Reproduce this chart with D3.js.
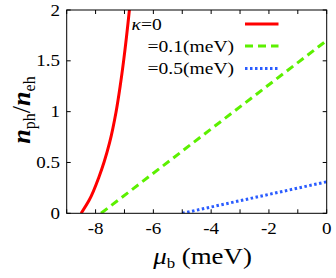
<!DOCTYPE html>
<html>
<head>
<meta charset="utf-8">
<script src="https://cdn.jsdelivr.net/npm/d3@7"></script>
<style>
  html, body { margin: 0; padding: 0; background: #fff; }
</style>
</head>
<body>
<svg id="chart" width="336" height="278"></svg>
<script>
/* ── data ── */
const redMu    = [-8.50, -8.22, -7.88, -7.70, -7.52, -7.29, -7.15, -7.03, -6.83, -6.76];
const redVal   = [0.00,  0.13,  0.36,  0.51,  0.69,  1.00,  1.25,  1.50,  2.00,  2.20];
const greenMu  = [-7.81, -4.0, 0.0];
const greenVal = [0.00,  0.83, 1.70];
const blueMu   = [-5.0, 0.0];
const blueVal  = [0.00, 0.31];

const xTicks = [-9, -8, -7, -6, -5, -4, -3, -2, -1, 0];
const xLabels = [-8, -6, -4, -2, 0];
const yTicks = [0, 0.5, 1, 1.5, 2];
const legendLabels = ["=0", "=0.1(meV)", "=0.5(meV)"];

/* ── layout ── */
const L = 66.7, R = 326.7, T = 10, B = 213.3;
const FONT = '"Liberation Serif"';
const SX = 1.12;   // lettering in the source is slightly wide
const svg = d3.select("#chart");
const x = d3.scaleLinear().domain([-9, 0]).range([L, R]);
const y = d3.scaleLinear().domain([0, 2]).range([B, T]);

// text placed at (tx,ty) and widened by SX
function stext(g, tx, ty, size, anchor) {
  return g.append("text").style("font-family", FONT)
    .attr("transform", `translate(${tx},${ty}) scale(${SX},1)`)
    .attr("text-anchor", anchor || "start").attr("font-size", size);
}

svg.append("defs").append("clipPath").attr("id", "clip")
  .append("rect").attr("x", L).attr("y", T).attr("width", R - L).attr("height", B - T);

/* ── curves ── */
const series = [
  { mu: redMu,   v: redVal,   color: "#ff0000", dash: null,      curve: d3.curveMonotoneY },
  { mu: greenMu, v: greenVal, color: "#5cf000", dash: "8,5",     curve: d3.curveLinear },
  { mu: blueMu,  v: blueVal,  color: "#2a5cff", dash: "2.5,2.5", curve: d3.curveLinear }
];
const gLines = svg.append("g").attr("clip-path", "url(#clip)");
series.forEach(s => {
  const pts = s.mu.map((m, i) => [m, s.v[i]]);
  gLines.append("path").datum(pts)
    .attr("fill", "none").attr("stroke", s.color).attr("stroke-width", 3)
    .attr("stroke-dasharray", s.dash)
    .attr("d", d3.line().x(d => x(d[0])).y(d => y(d[1])).curve(s.curve));
});

/* ── frame + inward ticks ── */
const gAx = svg.append("g").attr("stroke", "#000").attr("stroke-width", 1);
xTicks.forEach(t => {
  gAx.append("line").attr("x1", x(t)).attr("x2", x(t)).attr("y1", B).attr("y2", B - 4);
  gAx.append("line").attr("x1", x(t)).attr("x2", x(t)).attr("y1", T).attr("y2", T + 4);
});
yTicks.forEach(t => {
  gAx.append("line").attr("x1", L).attr("x2", L + 4).attr("y1", y(t)).attr("y2", y(t));
  gAx.append("line").attr("x1", R).attr("x2", R - 4).attr("y1", y(t)).attr("y2", y(t));
});
gAx.append("rect").attr("x", L).attr("y", T).attr("width", R - L).attr("height", B - T)
  .attr("fill", "none");

/* ── tick labels ── */
const gTick = svg.append("g");
xLabels.forEach(d => stext(gTick, x(d), 234, 17, "middle").text(d));
yTicks.forEach(d => stext(gTick, 60, y(d) + 5.5, 17, "end").text(d));

/* ── axis titles ── */
const xt = stext(svg, 202.5, 264, 24, "middle");
xt.append("tspan").attr("font-style", "italic").text("μ");
xt.append("tspan").attr("font-size", 15).attr("dy", 4).text("b");
xt.append("tspan").attr("dy", -4).text(" (meV)");

const yt = svg.append("text").style("font-family", FONT)
  .attr("transform", "translate(30,110) rotate(-90)")
  .attr("text-anchor", "middle").attr("font-size", 26);
yt.append("tspan").attr("font-style", "italic").attr("font-weight", "bold").text("n");
yt.append("tspan").attr("font-size", 16).attr("dy", 5).text("ph");
yt.append("tspan").attr("dy", -5).text("/");
yt.append("tspan").attr("font-style", "italic").attr("font-weight", "bold").text("n");
yt.append("tspan").attr("font-size", 16).attr("dy", 5).text("eh");

/* ── legend ── */
const rowY = [29.5, 51.5, 74];
const gLeg = svg.append("g");
legendLabels.forEach((lab, i) => {
  const t = stext(gLeg, i === 0 ? 131.5 : 147.5, rowY[i], 17.5);
  if (i === 0) t.append("tspan").attr("font-style", "italic").text("κ");
  t.append("tspan").text(lab);
  gLeg.append("line").attr("x1", 245).attr("x2", 278.5)
    .attr("y1", rowY[i] - 5.5).attr("y2", rowY[i] - 5.5)
    .attr("stroke", series[i].color).attr("stroke-width", 3)
    .attr("stroke-dasharray", series[i].dash);
});
</script>
</body>
</html>
